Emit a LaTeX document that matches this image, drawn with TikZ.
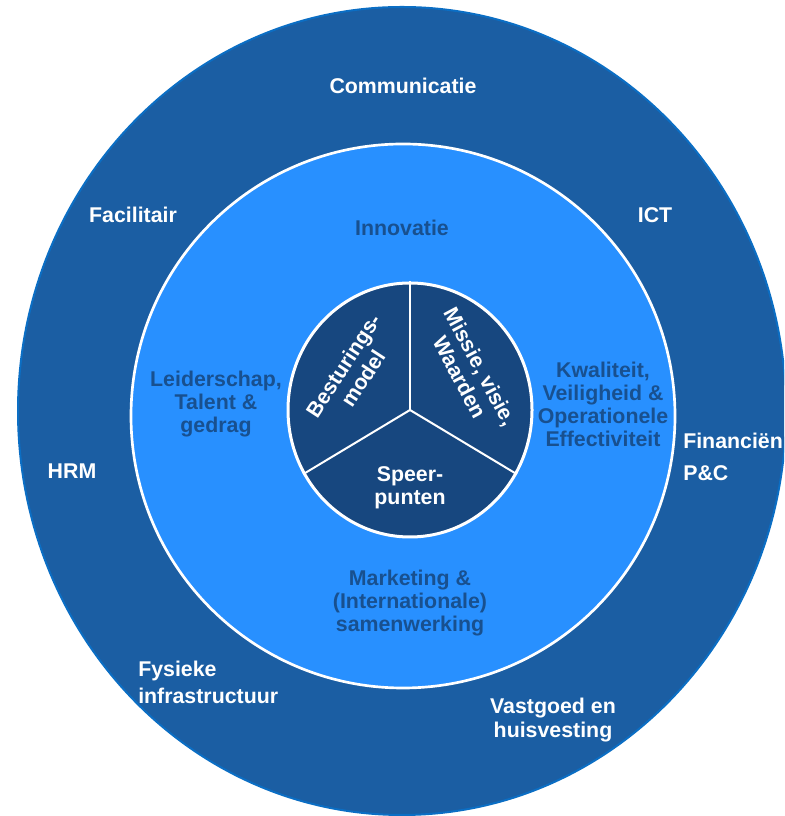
\documentclass[tikz,border=0pt]{standalone}
\usepackage{tikz}
\usepackage{xcolor}
\usepackage{fontspec}
\setmainfont{Liberation Sans}
\usetikzlibrary{shapes.geometric}

\definecolor{outerblue}{HTML}{1B5EA3}
\definecolor{rimblue}{HTML}{0B6EC4}
\definecolor{ringblue}{HTML}{2890FF}
\definecolor{coreblue}{HTML}{17477F}
\definecolor{textblue}{HTML}{18508F}

\begin{document}
\begin{tikzpicture}[x=0.75pt, y=0.75pt,
    disc/.style={ellipse, inner sep=0pt},
    outertext/.style={text=white, font=\bfseries\fontsize{16}{17.5}\selectfont, align=center, inner sep=0pt},
    ringtext/.style={text=textblue, font=\bfseries\fontsize{16}{17.25}\selectfont, align=center, inner sep=0pt},
    coretext/.style={text=white, font=\bfseries\fontsize{16}{17.5}\selectfont, align=center, inner sep=0pt},
    divider/.style={draw=white, line width=1.5pt}]
\useasboundingbox (0,0) rectangle (784,816);
\fill[white] (0,0) rectangle (784,816);
\clip (0,0) rectangle (784,816);

% three layers
\node[disc, fill=outerblue, draw=rimblue, line width=1.5pt,
      minimum width=576pt, minimum height=606pt] (outer) at (402,405) {};
\node[disc, fill=ringblue, draw=white, line width=2pt,
      minimum width=408pt, minimum height=408pt] (ring) at (403,400) {};
\node[disc, fill=coreblue, draw=white, line width=2.25pt,
      minimum width=183pt, minimum height=190.5pt] (core) at (410,406) {};

% core split in three
\coordinate (hub) at (core.center);
\draw[divider] (hub) -- (core.90);
\draw[divider] (hub) -- (core.211);
\draw[divider] (hub) -- (core.329);

\node[coretext, rotate=57] (besturing) at (353,444) {Besturings-\\model};
\node[coretext, rotate=-62] (missie) at (470,444) {Missie, visie,\\Waarden};
\node[coretext] (speerpunten) at (410,328) {Speer-\\punten};

% middle ring
\node[ringtext] (innovatie) at (402,588) {Innovatie};
\node[ringtext] (leiderschap) at (216,412) {Leiderschap,\\Talent \&\\gedrag};
\node[ringtext] (kwaliteit) at (603,412) {Kwaliteit,\\Veiligheid \&\\Operationele\\Effectiviteit};
\node[ringtext] (marketing) at (410,213) {Marketing \&\\(Internationale)\\samenwerking};

% outer ring
\node[outertext] (communicatie) at (403,730) {Communicatie};
\node[outertext] (facilitair) at (133,601) {Facilitair};
\node[outertext] (ict) at (655,601) {ICT};
\node[outertext] (hrm) at (72,345) {HRM};
\node[outertext, align=left, anchor=west] (financien) at (683,359) {Financiën\\[6.5pt]P\&C};
\node[outertext, align=left, anchor=west] (fysiek) at (138,134) {Fysieke\\[2.75pt]infrastructuur};
\node[outertext] (vastgoed) at (553,96) {Vastgoed en\\huisvesting};
\end{tikzpicture}
\end{document}
